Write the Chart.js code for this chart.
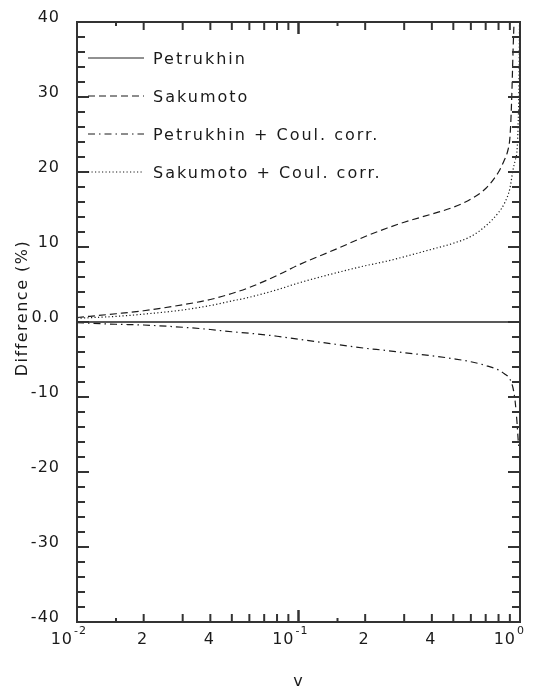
<!DOCTYPE html>
<html>
<head>
<meta charset="utf-8">
<script src="https://cdn.jsdelivr.net/npm/chart.js@4.4.0/dist/chart.umd.min.js"></script>
<style>
  html, body { margin: 0; padding: 0; background: #fff; }
</style>
</head>
<body>
<canvas id="c" width="536" height="690"></canvas>
<script>
// values (v, difference in %)
const petV = [0.01, 1.0];
const petY = [0, 0];

const sakV = [0.01, 0.015, 0.02, 0.03, 0.04, 0.05, 0.06, 0.08, 0.1, 0.15, 0.2, 0.25, 0.3, 0.4, 0.5, 0.6, 0.7, 0.8, 0.85, 0.88, 0.9, 0.91, 0.92, 0.93, 0.94];
const sakY = [0.6, 1.1, 1.5, 2.3, 3.0, 3.8, 4.6, 6.2, 7.6, 9.8, 11.4, 12.5, 13.3, 14.4, 15.3, 16.4, 17.8, 20.0, 21.6, 22.8, 24.5, 27, 31, 36, 40];

const petCoulV = [0.01, 0.015, 0.02, 0.03, 0.04, 0.05, 0.06, 0.08, 0.1, 0.15, 0.2, 0.25, 0.3, 0.4, 0.5, 0.6, 0.7, 0.8, 0.85, 0.9, 0.93, 0.95, 0.97, 0.98, 0.99];
const petCoulY = [-0.1, -0.3, -0.4, -0.7, -1.0, -1.3, -1.5, -1.9, -2.3, -3.0, -3.5, -3.8, -4.1, -4.5, -4.9, -5.3, -5.8, -6.4, -6.9, -7.6, -8.8, -10.5, -13.5, -15.5, -17];

const sakCoulV = [0.01, 0.015, 0.02, 0.03, 0.04, 0.05, 0.06, 0.08, 0.1, 0.15, 0.2, 0.25, 0.3, 0.4, 0.5, 0.6, 0.7, 0.8, 0.85, 0.9, 0.93, 0.95, 0.97, 0.98, 0.99, 0.995];
const sakCoulY = [0.5, 0.75, 1.05, 1.6, 2.2, 2.8, 3.3, 4.3, 5.2, 6.6, 7.5, 8.1, 8.7, 9.7, 10.5, 11.4, 12.8, 14.6, 15.8, 17.8, 20.3, 21.5, 23, 26, 32, 40];

const legendLabels = ['Petrukhin', 'Sakumoto', 'Petrukhin + Coul. corr.', 'Sakumoto + Coul. corr.'];

const yTickVals = [-40, -30, -20, -10, 0, 10, 20, 30, 40];
const yTickLabels = ['-40', '-30', '-20', '-10', '0.0', '10', '20', '30', '40'];
const xMajorVals = [0.01, 0.1, 1];
const xMajorExp = ['-2', '-1', '0'];
const xMinorVals = [0.02, 0.04, 0.2, 0.4];
const xMinorLabels = ['2', '4', '2', '4'];

const ink = '#1a1a1a';
const FONT = '"DejaVu Sans", sans-serif';

function pts(xs, ys) { return xs.map((x, i) => ({ x: x, y: ys[i] })); }

const frame = {
    id: 'frame',
    afterDatasetsDraw(chart) {
        const ctx = chart.ctx;
        const a = chart.chartArea;
        const xs = chart.scales.x, ys = chart.scales.y;
        ctx.save();
        ctx.strokeStyle = '#333';
        ctx.lineWidth = 2;
        ctx.strokeRect(a.left, a.top, a.right - a.left, a.bottom - a.top);

        function seg(x1, y1, x2, y2) { ctx.beginPath(); ctx.moveTo(x1, y1); ctx.lineTo(x2, y2); ctx.stroke(); }

        // y ticks, inward on both sides
        for (let v = -40; v <= 40; v += 2) {
            const py = ys.getPixelForValue(v);
            const len = v % 10 === 0 ? 12 : 8;
            seg(a.left, py, a.left + len, py);
            seg(a.right, py, a.right - len, py);
        }
        // x ticks, inward top and bottom (1, 1.5, 2..9, 10 per decade)
        const mult = [1, 1.5, 2, 3, 4, 5, 6, 7, 8, 9, 10];
        [0.01, 0.1].forEach(dec => {
            mult.forEach(m => {
                const px = xs.getPixelForValue(dec * m);
                let len = 8;
                if (m === 1 || m === 10) len = 12;
                if (m === 1.5) len = 4;
                seg(px, a.bottom, px, a.bottom - len);
                seg(px, a.top, px, a.top + len);
            });
        });

        ctx.fillStyle = ink;
        ctx.letterSpacing = '1px';
        // y labels: baseline at the tick, right aligned
        ctx.font = '16px ' + FONT;
        ctx.textAlign = 'right';
        ctx.textBaseline = 'alphabetic';
        yTickVals.forEach((v, i) => {
            ctx.fillText(yTickLabels[i], 60, ys.getPixelForValue(v));
        });

        // x labels
        ctx.textAlign = 'left';
        xMajorVals.forEach((v, i) => {
            const px = xs.getPixelForValue(v);
            ctx.font = '16px ' + FONT;
            const w = ctx.measureText('10').width;
            ctx.fillText('10', px - 4 - w, 644);
            ctx.font = '11px ' + FONT;
            ctx.fillText(xMajorExp[i], px - 3, 634);
        });
        ctx.font = '16px ' + FONT;
        ctx.textAlign = 'center';
        xMinorVals.forEach((v, i) => {
            ctx.fillText(xMinorLabels[i], xs.getPixelForValue(v) - 1, 644);
        });

        // axis titles
        ctx.fillText('v', (a.left + a.right) / 2, 686);
        ctx.save();
        ctx.translate(27, 308);
        ctx.rotate(-Math.PI / 2);
        ctx.letterSpacing = '1.5px';
        ctx.fillText('Difference (%)', 0, 0);
        ctx.restore();

        // legend
        const rows = [58, 96, 134, 172];
        ctx.textAlign = 'left';
        ctx.letterSpacing = '2px';
        chart.data.datasets.forEach((ds, i) => {
            ctx.strokeStyle = ds.borderColor;
            ctx.lineWidth = 1;
            ctx.setLineDash(ds.borderDash || []);
            seg(88, rows[i], 144, rows[i]);
            ctx.setLineDash([]);
            ctx.fillText(legendLabels[i], 153, rows[i] + 6);
        });
        ctx.restore();
    }
};

new Chart(document.getElementById('c'), {
    type: 'line',
    data: {
        datasets: [
            { label: legendLabels[0], data: pts(petV, petY), borderColor: '#222', borderWidth: 1.5, borderDash: [] },
            { label: legendLabels[1], data: pts(sakV, sakY), borderColor: ink, borderWidth: 1.2, borderDash: [7, 4] },
            { label: legendLabels[2], data: pts(petCoulV, petCoulY), borderColor: ink, borderWidth: 1.2, borderDash: [7, 4, 1.5, 4] },
            { label: legendLabels[3], data: pts(sakCoulV, sakCoulY), borderColor: ink, borderWidth: 1.2, borderDash: [1.2, 2.3] }
        ]
    },
    options: {
        responsive: false,
        animation: false,
        layout: { padding: { left: 77, right: 16, top: 22, bottom: 68 } },
        elements: { point: { radius: 0 }, line: { cubicInterpolationMode: 'monotone', fill: false } },
        plugins: { legend: { display: false }, tooltip: { enabled: false } },
        scales: {
            x: { type: 'logarithmic', min: 0.01, max: 1, display: false },
            y: { type: 'linear', min: -40, max: 40, display: false }
        }
    },
    plugins: [frame]
});
</script>
</body>
</html>
